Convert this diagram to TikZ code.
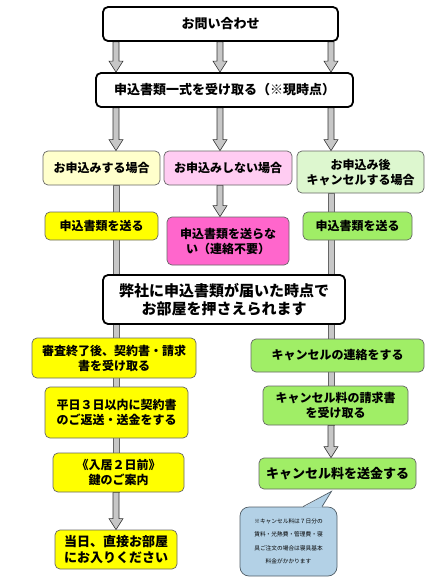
\documentclass[tikz,border=0pt]{standalone}
\usepackage{fontspec}
\setmainfont{Noto Sans CJK JP}
\usetikzlibrary{calc,backgrounds}
\definecolor{ylight}{HTML}{FFFFCC}
\definecolor{plight}{HTML}{FFCCF2}
\definecolor{glight}{HTML}{DDF7CF}
\definecolor{ystrong}{HTML}{FFFF00}
\definecolor{pstrong}{HTML}{FF66CC}
\definecolor{gstrong}{HTML}{A0EE66}
\definecolor{noteblue}{HTML}{B3D1E6}
% gray block arrow, straight down from #1 to #2
\newcommand{\garrow}[2]{\draw[garrow] ($(#1)+(-3,0)$) -- ($(#2)+(-3,-11)$) -- ($(#2)+(-7,-11)$) -- (#2)
  -- ($(#2)+(7,-11)$) -- ($(#2)+(3,-11)$) -- ($(#1)+(3,0)$) -- cycle;}

\begin{document}
\begin{tikzpicture}[x=1pt, y=-1pt,
  every node/.style={font=\fontsize{12}{15}\selectfont\bfseries, align=center, inner sep=2pt},
  mainbox/.style={draw, line width=1.8pt, rounded corners=5pt, fill=white},
  casebox/.style={draw=black!60, line width=0.7pt, rounded corners=5pt},
  garrow/.style={draw=black!80, fill=black!22, line width=0.6pt},
  gbar/.style={draw=black!60, fill=black!22, line width=0.6pt}]
\useasboundingbox (0,0) rectangle (437,584);
\coordinate (cL) at (116,0); \coordinate (cM) at (220,0); \coordinate (cR) at (331,0);
% top
\node[mainbox, minimum width=235, minimum height=34, font=\fontsize{13}{16}\selectfont\bfseries] (ask0) at (220.5,24) {お問い合わせ};
\node[mainbox, minimum width=257, minimum height=34, font=\fontsize{13}{16}\selectfont\bfseries] (recv) at (224.5,90) {申込書類一式を受け取る（※現時点）};
% three cases
\node[casebox, fill=ylight, minimum width=117, minimum height=34] (ask) at (101.5,168) {お申込みする場合};
\node[casebox, fill=plight, minimum width=128, minimum height=34] (nask) at (228,168) {お申込みしない場合};
\node[casebox, fill=glight, minimum width=127, minimum height=42] (cask) at (360.5,172) {お申込み後\\キャンセルする場合};
\node[casebox, fill=ystrong, minimum width=113, minimum height=28] (send) at (101.5,226) {申込書類を送る};
\node[casebox, fill=pstrong, minimum width=122, minimum height=48] (nosend) at (228,241) {申込書類を送らな\\い（連絡不要）};
\node[casebox, fill=gstrong, minimum width=109, minimum height=28] (csend) at (357.5,226) {申込書類を送る};
\node[mainbox, minimum width=242, minimum height=49, font=\fontsize{15}{18}\selectfont\bfseries] (hold) at (224,299.5) {弊社に申込書類が届いた時点で\\お部屋を押さえられます};
% left column
\node[casebox, fill=ystrong, minimum width=164, minimum height=40] (contract) at (114,358) {審査終了後、契約書・請求\\書を受け取る};
\node[casebox, fill=ystrong, minimum width=143, minimum height=51] (reply) at (116.5,412.5) {平日３日以内に契約書\\のご返送・送金をする};
\node[casebox, fill=ystrong, minimum width=131, minimum height=39] (keys) at (118.5,472.5) {《入居２日前》\\鍵のご案内};
\node[casebox, fill=ystrong, minimum width=122, minimum height=39, font=\fontsize{13}{16}\selectfont\bfseries] (today) at (116,549.5) {当日、直接お部屋\\にお入りください};
% right column
\node[casebox, fill=gstrong, minimum width=173, minimum height=33] (ccontact) at (337.5,355.5) {キャンセルの連絡をする};
\node[casebox, fill=gstrong, minimum width=145, minimum height=39] (cbill) at (335.5,405.5) {キャンセル料の請求書\\を受け取る};
\node[casebox, fill=gstrong, minimum width=157, minimum height=31, font=\fontsize{13}{16}\selectfont\bfseries] (cpay) at (337.5,473.5) {キャンセル料を送金する};
% note
\node[casebox, draw=black!55!noteblue, fill=noteblue, rounded corners=9pt, minimum width=97, minimum height=69,
  font=\fontsize{5.7}{13.5}\selectfont] (note) at (288.5,541.5) {※キャンセル料は７日分の\\賃料・光熱費・管理費・寝\\具ご注文の場合は寝具基本\\料金がかかります};
\coordinate (tip) at ($(cpay.south)+(-6,2)$);
\fill[noteblue] ($(note.north -| 303,0)+(0,1)$) -- (tip) -- ($(note.north -| 322,0)+(0,1)$) -- cycle;
\draw[black!55!noteblue, line width=0.7pt] (note.north -| 303,0) -- (tip) -- (note.north -| 322,0);
% arrows
\begin{scope}[on background layer]
  \foreach \c in {cL,cM,cR} {
    \garrow{\c |- ask0.south}{\c |- recv.north}
  }
  \garrow{cL |- recv.south}{cL |- ask.north}
  \garrow{cM |- recv.south}{cM |- nask.north}
  \garrow{cR |- recv.south}{cR |- cask.north}
  \garrow{cM |- nask.south}{cM |- nosend.north}
  \draw[gbar] ($(cL |- ask.south)+(-3,0)$) rectangle ($(cL |- keys.south)+(3,0)$);
  \draw[gbar] ($(cR |- cask.south)+(-3,0)$) rectangle ($(cR |- cbill.south)+(3,0)$);
  \garrow{cL |- keys.south}{cL |- today.north}
  \garrow{cR |- cbill.south}{cR |- cpay.north}
\end{scope}
\end{tikzpicture}
\end{document}
